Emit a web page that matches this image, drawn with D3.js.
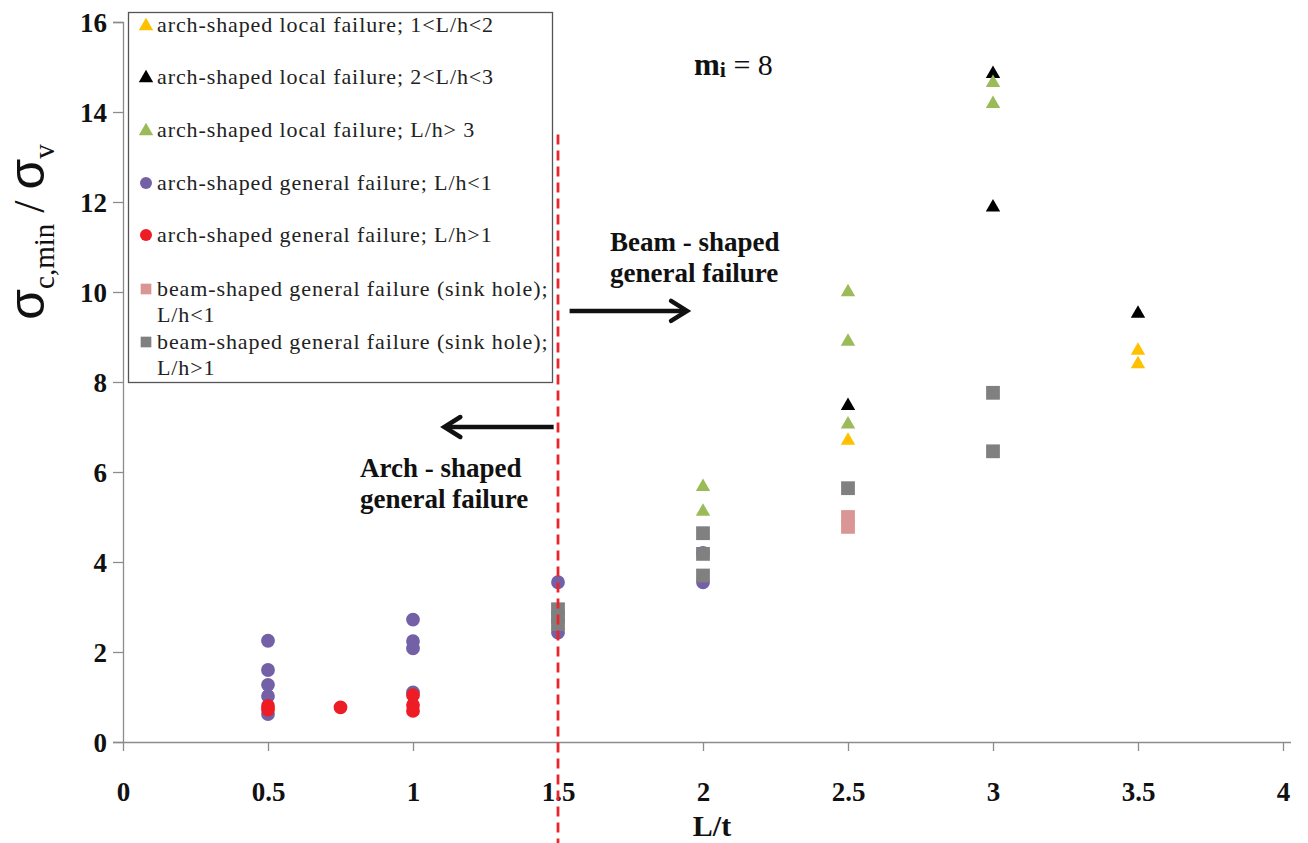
<!DOCTYPE html>
<html>
<head>
<meta charset="utf-8">
<script src="https://cdn.jsdelivr.net/npm/d3@7"></script>
<style>
  body { margin:0; background:#fff; }
  svg { display:block; }
  text { font-family:"Liberation Serif","Times New Roman",serif; }
</style>
</head>
<body>
<svg id="chart" width="1308" height="843"></svg>
<script>
// values: [L/t, sigma ratio]
var localA  = [[2.5,6.7],[3.5,8.7],[3.5,8.4]];                      // 1<L/h<2
var localB  = [[2.5,7.47],[3,14.85],[3,11.88],[3.5,9.52]];          // 2<L/h<3
var localC  = [[2,5.67],[2,5.12],[2.5,10.0],[2.5,8.9],[2.5,7.06],[3,14.65],[3,14.18]]; // L/h>3
var genA    = [[0.5,2.25],[0.5,1.6],[0.5,1.27],[0.5,1.02],[0.5,0.62],
               [1,2.72],[1,2.24],[1,2.08],[1,1.1],
               [1.5,3.55],[1.5,2.43],[2,4.2],[2,3.55]];                // L/h<1
var genB    = [[0.5,0.8],[0.5,0.72],[0.75,0.77],[1,1.04],[1,0.82],[1,0.69]]; // L/h>1
var beamA   = [[2.5,5.0],[2.5,4.78]];                               // L/h<1
var beamB   = [[1.5,2.95],[1.5,2.78],[1.5,2.62],[2,4.64],[2,4.18],[2,3.7],
               [2.5,5.64],[3,7.76],[3,6.46]];                         // L/h>1

var xTicks = [0,0.5,1,1.5,2,2.5,3,3.5,4];
var yTicks = [0,2,4,6,8,10,12,14,16];

var series = [
  {name:"arch-shaped local failure; 1<L/h<2", lines:[], data:localA, shape:"tri", color:"#FFC000"},
  {name:"arch-shaped local failure; 2<L/h<3", lines:[], data:localB, shape:"tri", color:"#000000"},
  {name:"arch-shaped local failure; L/h> 3",  lines:[], data:localC, shape:"tri", color:"#9BBB59"},
  {name:"arch-shaped general failure; L/h<1", lines:[], data:genA, shape:"circ", color:"#7460A6"},
  {name:"arch-shaped general failure; L/h>1", lines:[], data:genB, shape:"circ", color:"#EE1C25"},
  {name:"beam-shaped general failure (sink hole);", lines:["L/h<1"], data:beamA, shape:"sq", color:"#D99694"},
  {name:"beam-shaped general failure (sink hole);", lines:["L/h>1"], data:beamB, shape:"sq", color:"#808080"}
];

var serif = "'Liberation Serif','Times New Roman',serif";
var svg = d3.select("#chart");
var x = d3.scaleLinear().domain([0,4]).range([123,1283]);
var y = d3.scaleLinear().domain([0,16]).range([742,22]);

var symType = {tri:d3.symbolTriangle, circ:d3.symbolCircle, sq:d3.symbolSquare};
var symSize = {tri:90, circ:150, sq:190};
function sym(s, k) { return d3.symbol().type(symType[s]).size(symSize[s]*(k||1))(); }

// axes
var gx = svg.append("g").attr("transform","translate(0,"+y(0)+")")
  .call(d3.axisBottom(x).tickValues(xTicks).tickSize(9).tickPadding(31).tickFormat(d3.format("")));
var gy = svg.append("g").attr("transform","translate("+x(0)+",0)")
  .call(d3.axisLeft(y).tickValues(yTicks).tickSize(10).tickPadding(6));
gx.select(".domain").attr("d","M"+x(0)+",0.5H1291");
[gx,gy].forEach(function(g){
  g.selectAll(".domain,line").attr("stroke","#8c8c8c").attr("stroke-width",1.3);
  g.selectAll("text").attr("fill","#111").style("font-size","27px").style("font-weight","bold")
    .style("font-family",serif);
});
gy.selectAll("text").attr("dy","0.35em");

// axis titles
svg.append("text").attr("x",712).attr("y",836).attr("text-anchor","middle").style("font-family",serif)
  .style("font-size","30px").style("font-weight","bold").attr("fill","#111").text("L/t");

var yt = svg.append("text").attr("transform","translate(44,232) rotate(-90)")
  .attr("text-anchor","middle").attr("fill","#111").style("font-family",serif);
yt.append("tspan").style("font-family","'Liberation Sans',sans-serif").style("font-size","50px").text("σ");
yt.append("tspan").attr("dy",10).style("font-size","29px").text("c,min");
yt.append("tspan").attr("dy",-10).style("font-size","44px").text(" / ");
yt.append("tspan").style("font-family","'Liberation Sans',sans-serif").style("font-size","50px").text("σ");
yt.append("tspan").attr("dy",10).style("font-size","29px").text("v");

// markers
series.forEach(function(s){
  svg.append("g").selectAll("path").data(s.data).join("path")
    .attr("d", sym(s.shape))
    .attr("transform", function(d){ return "translate("+x(d[0])+","+y(d[1])+")"; })
    .attr("fill", s.color);
});

// boundary at L/t = 1.5
svg.append("line").attr("x1",x(1.5)).attr("x2",x(1.5)).attr("y1",y(13.5)).attr("y2",843)
  .attr("stroke","#E8262B").attr("stroke-width",2.8).attr("stroke-dasharray","10,6");

// legend
var lg = svg.append("g");
lg.append("rect").attr("x",128.5).attr("y",12.5).attr("width",424).attr("height",370)
  .attr("fill","#fff").attr("stroke","#555").attr("stroke-width",1.3);
var rowY = [25,77,130,183,235,289,342];
series.forEach(function(s,i){
  lg.append("path").attr("d", sym(s.shape, s.shape=="circ"?0.75:(s.shape=="sq"?0.6:1)))
    .attr("transform","translate(146,"+(rowY[i]+(s.shape=="tri"?1:0))+")").attr("fill",s.color);
  var t = lg.append("text").attr("x",157).attr("y",rowY[i]+7).attr("fill","#222")
    .style("font-family",serif).style("font-size","22px").style("letter-spacing","0.9px");
  t.append("tspan").text(s.name);
  s.lines.forEach(function(l){ t.append("tspan").attr("x",157).attr("dy",26).text(l); });
});

// annotations
function label(lines, tx, ty) {
  var t = svg.append("text").attr("x",tx).attr("y",ty).attr("fill","#111").style("font-family",serif)
    .style("font-size","27px").style("font-weight","bold");
  lines.forEach(function(l,i){ t.append("tspan").attr("x",tx).attr("dy",i?31:0).text(l); });
}
label(["Beam - shaped","general failure"], 610, 251);
label(["Arch - shaped","general failure"], 360, 477);

var mi = svg.append("text").attr("x",694).attr("y",75).attr("fill","#111").style("font-family",serif);
mi.append("tspan").style("font-size","31px").style("font-weight","bold").text("m");
mi.append("tspan").style("font-size","22px").style("font-weight","bold").attr("dy",2).text("i");
mi.append("tspan").style("font-size","30px").attr("dy",-2).text(" = 8");

function arrow(x0, x1, v) {
  var yy = y(v), dir = x1 > x0 ? 1 : -1;
  svg.append("line").attr("x1",x(x0)).attr("x2",x(x1)-dir*2).attr("y1",yy).attr("y2",yy)
    .attr("stroke","#111").attr("stroke-width",4.5);
  svg.append("path").attr("d", d3.line()([[x(x1)-dir*16,yy-10],[x(x1),yy],[x(x1)-dir*16,yy+10]]))
    .attr("fill","none").attr("stroke","#111").attr("stroke-width",4.5).attr("stroke-linecap","round");
}
arrow(1.54, 1.945, 9.58);
arrow(1.485, 1.108, 7.0);
</script>
</body>
</html>
